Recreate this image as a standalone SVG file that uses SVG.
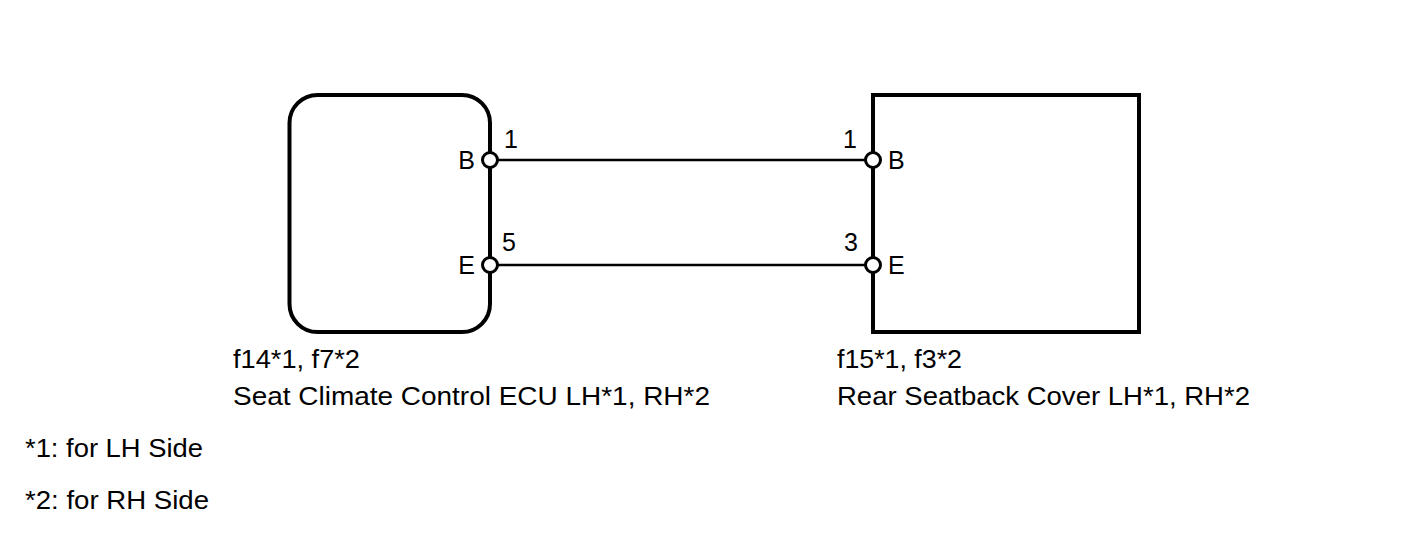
<svg xmlns="http://www.w3.org/2000/svg" width="1424" height="558" viewBox="0 0 1424 558">
<style>
.box{fill:none;stroke:#000;stroke-width:4}
.wire{stroke:#000;stroke-width:2.5;fill:none}
.pin{fill:#fff;stroke:#000;stroke-width:3}
text{font-family:"Liberation Sans",Arial,sans-serif;font-size:25px;fill:#000}
.lbl{font-size:25px}
</style>
<rect width="1424" height="558" fill="#fff"/>
<g id="connectors">
<line class="wire" x1="490" y1="160" x2="873" y2="160"/>
<line class="wire" x1="490" y1="265" x2="873" y2="265"/>
</g>
<g id="ecu">
<rect class="box" x="289.5" y="95" width="200.5" height="237" rx="28" ry="28"/>
<circle class="pin" cx="490" cy="160" r="7.5"/>
<circle class="pin" cx="490" cy="265" r="7.5"/>
<text x="475" y="169" text-anchor="end">B</text>
<text x="475" y="274" text-anchor="end">E</text>
<text x="504" y="148">1</text>
<text x="502" y="251">5</text>
<text class="lbl" x="233" y="368" textLength="127" lengthAdjust="spacingAndGlyphs">f14*1, f7*2</text>
<text class="lbl" x="233" y="405" textLength="477" lengthAdjust="spacingAndGlyphs">Seat Climate Control ECU LH*1, RH*2</text>
</g>
<g id="cover">
<rect class="box" x="873" y="95" width="266" height="237"/>
<circle class="pin" cx="873" cy="160" r="7.5"/>
<circle class="pin" cx="873" cy="265" r="7.5"/>
<text x="888" y="169">B</text>
<text x="888" y="274">E</text>
<text x="857" y="148" text-anchor="end">1</text>
<text x="858" y="251" text-anchor="end">3</text>
<text class="lbl" x="837" y="368" textLength="125" lengthAdjust="spacingAndGlyphs">f15*1, f3*2</text>
<text class="lbl" x="837" y="405" textLength="413" lengthAdjust="spacingAndGlyphs">Rear Seatback Cover LH*1, RH*2</text>
</g>
<g id="notes">
<text class="lbl" x="25" y="457" textLength="178" lengthAdjust="spacingAndGlyphs">*1: for LH Side</text>
<text class="lbl" x="25" y="509" textLength="184" lengthAdjust="spacingAndGlyphs">*2: for RH Side</text>
</g>
</svg>
